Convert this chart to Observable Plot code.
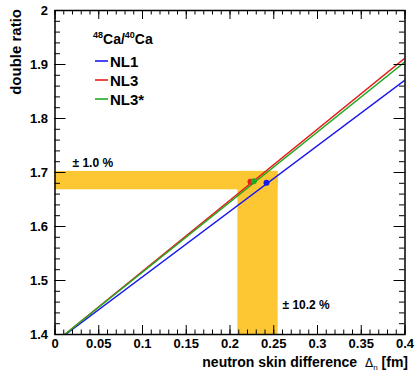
<!DOCTYPE html>
<html><head><meta charset="utf-8">
<script src="https://cdn.jsdelivr.net/npm/d3@7"></script>
<script src="https://cdn.jsdelivr.net/npm/@observablehq/plot@0.6"></script>
<style>body{margin:0;background:#fff} svg{display:block}</style>
</head><body><div id="chart"></div>
<script>
// ---- data ----
const models = ["NL1", "NL3", "NL3*"];
const modelColors = ["#1a1aee", "#e81c1c", "#22aa22"];
// straight lines: start / end points
const nl1X = [0.012, 0.4];  const nl1Y = [1.4, 1.871];
const nl3X = [0.011, 0.4];  const nl3Y = [1.4, 1.912];
const nl3sX = [0.011, 0.4]; const nl3sY = [1.4, 1.905];
// crossing points (dots)
const dotModels = ["NL3", "NL3*", "NL1"];
const dotX = [0.2234, 0.2272, 0.2417];
const dotY = [1.683, 1.684, 1.681];
// uncertainty bands
const ratioBand = [1.668, 1.702];   // ± 1.0 %
const skinBand = [0.209, 0.255];    // ± 10.2 %
const bandLabels = ["± 1.0 %", "± 10.2 %"];
const bandLabelX = [0.02, 0.26];
const bandLabelY = [1.711, 1.448];
// axes
const xTicks = [0, 0.05, 0.1, 0.15, 0.2, 0.25, 0.3, 0.35, 0.4];
const yTicks = [1.4, 1.5, 1.6, 1.7, 1.8, 1.9, 2.0];
const xMinor = d3.range(0, 40.5, 1).map(d => d / 100);
const yMinor = d3.range(70, 100.5, 1).map(d => d / 50);
const xTitle = "neutron skin difference";
const yTitle = "double ratio";

// ---- tables built from the arrays ----
const lineData = [
  ...nl1X.map((x, i) => ({model: "NL1", x, y: nl1Y[i]})),
  ...nl3X.map((x, i) => ({model: "NL3", x, y: nl3Y[i]})),
  ...nl3sX.map((x, i) => ({model: "NL3*", x, y: nl3sY[i]}))
];
const dotData = dotX.map((x, i) => ({model: dotModels[i], x, y: dotY[i]}));
const x0 = xTicks[0], y0 = yTicks[0];
const bandRects = [
  {x1: x0, x2: skinBand[1], y1: ratioBand[0], y2: ratioBand[1]},
  {x1: skinBand[0], x2: skinBand[1], y1: y0, y2: ratioBand[1]}
];
const labelData = bandLabels.map((t, i) => ({t, x: bandLabelX[i], y: bandLabelY[i]}));

const W = 416, H = 373, mL = 54.5, mR = 11.5, mT = 10, mB = 39;
const PH = H - mT - mB, PW = W - mL - mR;
const band = "#fcc733";
const font = "'Liberation Sans', Arial, Helvetica, sans-serif";

const svg = Plot.plot({
  width: W, height: H,
  marginLeft: mL, marginRight: mR, marginTop: mT, marginBottom: mB,
  x: {domain: [0, 0.4]},
  y: {domain: [1.4, 2.0]},
  color: {domain: models, range: modelColors},
  style: {fontFamily: font, fontWeight: "bold", background: "white", color: "black", overflow: "visible"},
  marks: [
    Plot.rect(bandRects, {x1: "x1", x2: "x2", y1: "y1", y2: "y2", fill: band}),
    Plot.line(lineData, {x: "x", y: "y", z: "model", stroke: "model", strokeWidth: 1.5, clip: true}),
    Plot.dot(dotData, {x: "x", y: "y", fill: "model", r: 3}),
    // minor ticks (inside, all four sides)
    Plot.ruleX(xMinor, {insetTop: PH - 4.5, stroke: "black", strokeWidth: 1}),
    Plot.ruleX(xMinor, {insetBottom: PH - 4.5, stroke: "black", strokeWidth: 1}),
    Plot.ruleY(yMinor, {insetRight: PW - 5.5, stroke: "black", strokeWidth: 1}),
    Plot.ruleY(yMinor, {insetLeft: PW - 5.5, stroke: "black", strokeWidth: 1}),
    // major ticks
    Plot.ruleX(xTicks, {insetTop: PH - 9, stroke: "black", strokeWidth: 1}),
    Plot.ruleX(xTicks, {insetBottom: PH - 9, stroke: "black", strokeWidth: 1}),
    Plot.ruleY(yTicks, {insetRight: PW - 11, stroke: "black", strokeWidth: 1}),
    Plot.ruleY(yTicks, {insetLeft: PW - 11, stroke: "black", strokeWidth: 1}),
    Plot.frame({stroke: "black", strokeWidth: 1.5}),
    Plot.axisX(xTicks, {tickSize: 0, tickPadding: 4, tickFormat: d => String(d), fontSize: 13, fontWeight: "bold", label: null}),
    Plot.axisY(yTicks, {tickSize: 0, tickPadding: 7, tickFormat: d => String(d), fontSize: 13, fontWeight: "bold", label: null}),
    Plot.text(labelData, {x: "x", y: "y", text: "t", textAnchor: "start", lineAnchor: "bottom", fontSize: 12, fontWeight: "bold", fill: "black"})
  ]
});

const s = d3.select(svg);
// y title
s.append("text").attr("transform", `translate(21,9) rotate(-90)`)
  .attr("text-anchor", "end").attr("font-size", 15).attr("font-weight", "bold").attr("fill", "black")
  .text(yTitle);
// x title with Δn
const xt = s.append("text").attr("x", 408).attr("y", 367).attr("text-anchor", "end")
  .attr("font-size", 14).attr("font-weight", "bold").attr("fill", "black");
xt.append("tspan").text(xTitle + " ");
xt.append("tspan").attr("font-weight", "normal").attr("font-family", "'DejaVu Sans', sans-serif").attr("font-size", 12).attr("dx", 4).text("Δ");
xt.append("tspan").attr("font-weight", "normal").attr("font-size", 8).attr("dy", 3).text("n");
xt.append("tspan").attr("dy", -3).text(" [fm]");
// legend
const lg = s.append("g").attr("font-weight", "bold").attr("fill", "black").attr("text-anchor", "start");
const lt = lg.append("text").attr("x", 93).attr("y", 44).attr("font-size", 14).attr("text-anchor", "start");
lt.append("tspan").attr("font-size", 9).attr("dy", -6).text("48");
lt.append("tspan").attr("dy", 6).text("Ca/");
lt.append("tspan").attr("font-size", 9).attr("dy", -6).text("40");
lt.append("tspan").attr("dy", 6).text("Ca");
models.forEach((m, i) => {
  const y = 61 + i * 19;
  lg.append("line").attr("x1", 95).attr("x2", 108).attr("y1", y).attr("y2", y)
    .attr("stroke", modelColors[i]).attr("stroke-width", 1.6);
  lg.append("text").attr("x", 110).attr("y", y + 5.5).attr("font-size", 15)
    .attr("text-anchor", "start").text(m);
});
document.getElementById("chart").appendChild(svg);
</script>
</body></html>
